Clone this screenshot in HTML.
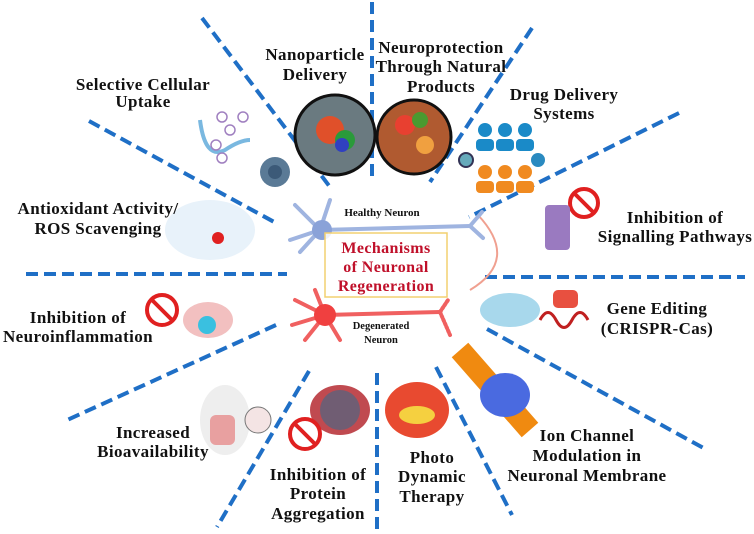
<!DOCTYPE html>
<html><head><meta charset="utf-8"><style>
body{margin:0;background:#fff}
svg{display:block}
.t{font-family:"Liberation Serif",serif;font-weight:bold;font-size:17px;letter-spacing:0.4px;fill:#111;text-anchor:middle}
.d{stroke:#1f6fc6;stroke-width:4;stroke-dasharray:12 6;fill:none}
</style></head><body>
<svg width="754" height="534" viewBox="0 0 754 534" xmlns="http://www.w3.org/2000/svg">
<g class="d">
<line x1="202" y1="18" x2="330" y2="187"/>
<line x1="89" y1="121" x2="276" y2="223"/>
<line x1="372" y1="2" x2="372" y2="180"/>
<line x1="532" y1="28" x2="430" y2="182"/>
<line x1="679" y1="113" x2="469" y2="217"/>
<line x1="26" y1="274" x2="287" y2="274"/>
<line x1="485" y1="277" x2="745" y2="277"/>
<line x1="276" y1="325" x2="65" y2="421"/>
<line x1="309" y1="371" x2="217" y2="527"/>
<line x1="377" y1="373" x2="377" y2="532"/>
<line x1="436" y1="367" x2="512" y2="515"/>
<line x1="487" y1="329" x2="707" y2="450"/>
</g>
<circle cx="335" cy="135" r="40" fill="#6a7a80" stroke="#111" stroke-width="3"/>
<circle cx="330" cy="130" r="14" fill="#e0502a"/><circle cx="345" cy="140" r="10" fill="#2a9a3a"/><circle cx="342" cy="145" r="7" fill="#3040c0"/>
<circle cx="414" cy="137" r="37" fill="#b05a30" stroke="#111" stroke-width="3"/>
<circle cx="405" cy="125" r="10" fill="#e84030"/><circle cx="425" cy="145" r="9" fill="#f0a040"/><circle cx="420" cy="120" r="8" fill="#4a9a30"/>
<circle cx="275" cy="172" r="15" fill="#5a7a96"/><circle cx="275" cy="172" r="7" fill="#3c5a78"/>
<path d="M200 120 Q205 160 225 150 Q240 140 250 140" stroke="#7ab8e0" stroke-width="4" fill="none"/>
<g fill="none" stroke="#a080c0" stroke-width="1.5"><circle cx="222" cy="117" r="5"/><circle cx="243" cy="117" r="5"/><circle cx="230" cy="130" r="5"/><circle cx="216" cy="145" r="5"/><circle cx="222" cy="158" r="5"/></g>
<g fill="#1a8ac8"><circle cx="485" cy="130" r="7"/><circle cx="505" cy="130" r="7"/><circle cx="525" cy="130" r="7"/><rect x="476" y="139" width="18" height="12" rx="4"/><rect x="496" y="139" width="18" height="12" rx="4"/><rect x="516" y="139" width="18" height="12" rx="4"/></g>
<g fill="#f08a20"><circle cx="485" cy="172" r="7"/><circle cx="505" cy="172" r="7"/><circle cx="525" cy="172" r="7"/><rect x="476" y="181" width="18" height="12" rx="4"/><rect x="496" y="181" width="18" height="12" rx="4"/><rect x="516" y="181" width="18" height="12" rx="4"/></g>
<circle cx="466" cy="160" r="7" fill="#6ab" stroke="#335" stroke-width="2"/><circle cx="538" cy="160" r="7" fill="#2a8ac0"/>
<circle cx="584" cy="203" r="14" fill="none" stroke="#e02020" stroke-width="4"/><line x1="575" y1="194" x2="593" y2="212" stroke="#e02020" stroke-width="4"/>
<rect x="545" y="205" width="25" height="45" rx="4" fill="#9a7ac0"/>
<path d="M478 215 Q520 260 470 290" stroke="#f0a090" stroke-width="2" fill="none"/>
<ellipse cx="210" cy="230" rx="45" ry="30" fill="#e8f2fa"/><circle cx="218" cy="238" r="6" fill="#e02020"/>
<circle cx="162" cy="310" r="15" fill="none" stroke="#e02020" stroke-width="4"/><line x1="152" y1="300" x2="172" y2="320" stroke="#e02020" stroke-width="4"/>
<ellipse cx="208" cy="320" rx="25" ry="18" fill="#f2c0c0"/><circle cx="207" cy="325" r="9" fill="#3ac0e0"/>
<ellipse cx="225" cy="420" rx="25" ry="35" fill="#eee"/><rect x="210" y="415" width="25" height="30" rx="6" fill="#e8a0a0"/><circle cx="258" cy="420" r="13" fill="#f4e4e4" stroke="#777"/>
<ellipse cx="340" cy="410" rx="30" ry="25" fill="#c04a50"/><circle cx="340" cy="410" r="20" fill="#3a6a8a" opacity=".6"/>
<circle cx="305" cy="434" r="15" fill="none" stroke="#e02020" stroke-width="4"/><line x1="295" y1="424" x2="315" y2="444" stroke="#e02020" stroke-width="4"/>
<ellipse cx="417" cy="410" rx="32" ry="28" fill="#e84a30"/><ellipse cx="417" cy="415" rx="18" ry="9" fill="#f5d040"/>
<path d="M460 350 L530 430" stroke="#f08a10" stroke-width="22" fill="none"/>
<ellipse cx="505" cy="395" rx="25" ry="22" fill="#4a6ae0"/>
<ellipse cx="510" cy="310" rx="30" ry="17" fill="#a8d8ec"/>
<path d="M540 320 Q548 305 556 320 T572 320 T588 320" stroke="#c02020" stroke-width="3" fill="none"/>
<rect x="553" y="290" width="25" height="18" rx="5" fill="#e85040"/>
<g stroke="#9fb4e0" stroke-width="4" fill="none" stroke-linecap="round">
<path d="M320 230 L470 226"/><path d="M320 230 L295 205"/><path d="M320 230 L290 240"/><path d="M320 230 L330 200"/><path d="M320 230 L300 252"/><path d="M470 226 L482 212 M470 226 L483 238"/>
</g><circle cx="322" cy="230" r="10" fill="#8aa2d8"/>
<g stroke="#f06060" stroke-width="4" fill="none" stroke-linecap="round">
<path d="M325 315 L440 312"/><path d="M325 315 L295 300"/><path d="M325 315 L292 325"/><path d="M325 315 L315 290"/><path d="M325 315 L305 340"/><path d="M325 315 L340 340"/>
<path d="M440 312 L448 300 M440 312 L450 335" stroke-dasharray="2 2"/>
</g><circle cx="325" cy="315" r="11" fill="#f04040"/>
<rect x="325" y="233" width="122" height="64" fill="#fff" fill-opacity=".85" stroke="#f2d070" stroke-width="1.5"/>
<g class="t">
<text x="315" y="60">Nanoparticle</text><text x="315" y="80">Delivery</text>
<text x="143" y="90">Selective Cellular</text><text x="143" y="107">Uptake</text>
<text x="98" y="214">Antioxidant Activity/</text><text x="98" y="234">ROS Scavenging</text>
<text x="441" y="53">Neuroprotection</text><text x="441" y="72">Through Natural</text><text x="441" y="92">Products</text>
<text x="564" y="100">Drug Delivery</text><text x="564" y="119">Systems</text>
<text x="675" y="223">Inhibition of</text><text x="675" y="242">Signalling Pathways</text>
<text x="78" y="323">Inhibition of</text><text x="78" y="342">Neuroinflammation</text>
<text x="153" y="438">Increased</text><text x="153" y="457">Bioavailability</text>
<text x="318" y="480">Inhibition of</text><text x="318" y="499">Protein</text><text x="318" y="519">Aggregation</text>
<text x="657" y="314">Gene Editing</text><text x="657" y="334">(CRISPR-Cas)</text>
<text x="587" y="441">Ion Channel</text><text x="587" y="461">Modulation in</text><text x="587" y="481">Neuronal Membrane</text>
<text x="432" y="463">Photo</text><text x="432" y="482">Dynamic</text><text x="432" y="502">Therapy</text>
<text x="382" y="216" style="font-size:11px;letter-spacing:0">Healthy Neuron</text>
<text x="381" y="329" style="font-size:10.5px;letter-spacing:0">Degenerated</text><text x="381" y="343" style="font-size:10.5px;letter-spacing:0">Neuron</text>
<g style="fill:#c0102a;font-size:16px"><text x="386" y="253">Mechanisms</text><text x="386" y="272">of Neuronal</text><text x="386" y="291">Regeneration</text></g>
</g>
</svg>
</body></html>
